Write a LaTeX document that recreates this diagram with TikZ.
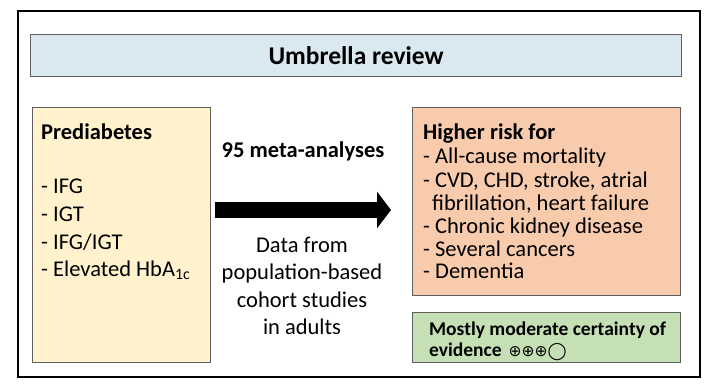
\documentclass[tikz,border=0pt]{standalone}
\usepackage{fontspec}
\setmainfont{Carlito}
\newfontfamily\symfont{DejaVu Sans}
\usetikzlibrary{arrows.meta}
\definecolor{umbrfill}{RGB}{218,232,240}
\definecolor{predfill}{RGB}{255,242,204}
\definecolor{riskfill}{RGB}{248,203,173}
\definecolor{certfill}{RGB}{197,224,180}
\definecolor{boxline}{RGB}{95,95,95}
\tikzset{
  box/.style={draw=boxline,line width=1.2pt,inner sep=0pt,anchor=north west},
  txt/.style={anchor=base west,inner sep=0pt,font=\fontsize{22.5}{27}\selectfont},
  ctxt/.style={anchor=base,inner sep=0pt,font=\fontsize{22.5}{27}\selectfont},
  head/.style={font=\fontsize{22.5}{27}\selectfont\bfseries},
}

\begin{document}
\begin{tikzpicture}[x=1pt,y=-1pt]
  \useasboundingbox (0,0) rectangle (716,389);
  \draw[line width=2.5pt] (18,11) rectangle (700,377);
  % boxes
  \node[box,fill=umbrfill,minimum width=651pt,minimum height=42pt] (umbr) at (30,34) {};
  \node[font=\fontsize{25.5}{30}\selectfont\bfseries] (umbrtxt) at (umbr.center) {Umbrella review};
  \node[box,fill=predfill,minimum width=178pt,minimum height=255pt] (pred) at (32,107) {};
  \node[box,fill=riskfill,minimum width=268pt,minimum height=188pt] (risk) at (412,107) {};
  \node[box,fill=certfill,minimum width=268pt,minimum height=50pt] (cert) at (412,312) {};
  % left box
  \node[txt,head] (predtxt) at (41,139) {Prediabetes};
  \foreach \y/\lab [count=\i] in {193/{- IFG},221/{- IGT},249/{- IFG/IGT},276/{- Elevated HbA\textsubscript{1c}}}{
    \node[txt] (pred\i) at (41,\y) {\lab};
  }
  % middle
  \coordinate (arrstart) at (215,210);
  \coordinate (arrend) at (391,210);
  \draw[line width=16pt,-{Triangle[length=14pt,width=36pt]}] (arrstart) -- (arrend);
  \node[ctxt,head] (meta) at (303,157) {95 meta-analyses};
  \foreach \y/\lab [count=\i] in {252/Data from,279/population-based,307/cohort studies,334/in adults}{
    \node[ctxt] (data\i) at (302,\y) {\lab};
  }
  % right boxes
  \node[txt,head] (risktxt) at (423,139) {Higher risk for};
  \foreach \y/\x/\lab [count=\i] in {163/423/{- All-cause mortality},187/423/{- CVD, CHD, stroke, atrial},
      210/432/{fibrillation, heart failure},233/423/{- Chronic kidney disease},
      256/423/{- Several cancers},278/423/{- Dementia}}{
    \node[txt] (risk\i) at (\x,\y) {\lab};
  }
  \node[txt,font=\fontsize{19.5}{23}\selectfont\bfseries] (cert1) at (429,335) {Mostly moderate certainty of};
  \node[txt,font=\fontsize{19.5}{23}\selectfont\bfseries] (cert2) at (429,356)
    {evidence\hspace{7pt}{\symfont\mdseries\fontsize{15.5}{18}\selectfont ⊕⊕⊕}{\symfont\fontsize{17}{20}\selectfont ◯}};
\end{tikzpicture}
\end{document}
